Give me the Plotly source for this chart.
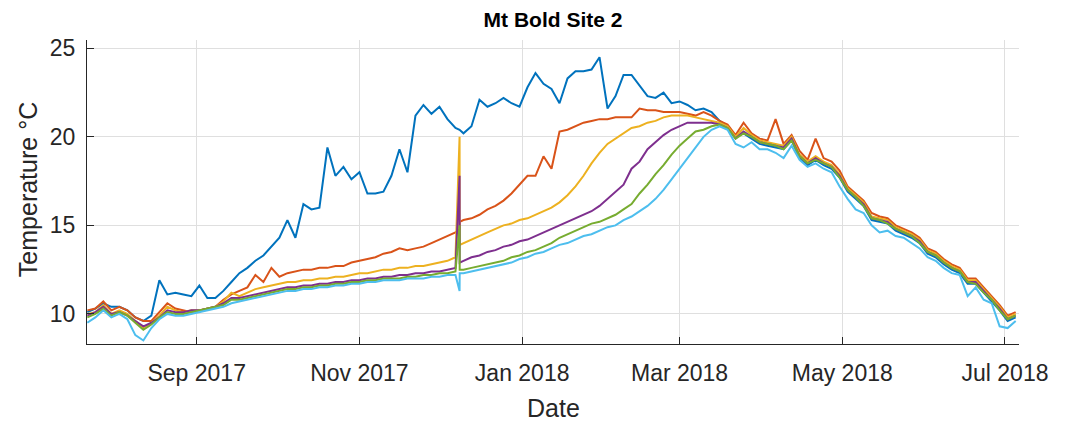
import pandas as pd
import plotly.graph_objects as go

# 3-day samples starting 22 Jul 2017, plus a logger glitch on 8 Dec 2017
start_date = "2017-07-22"
n_samples = 117
glitch_index = 47
glitch_times = ["2017-12-08 13:00", "2017-12-08 14:00"]

series_names = ["Logger 1", "Logger 2", "Logger 3", "Logger 4", "Logger 5", "Logger 6"]
series_colors = ["#0072BD", "#D95319", "#EDB120", "#7E2F8E", "#77AC30", "#4DBEEE"]

temp_1 = [10.1, 10.3, 10.6, 10.4, 10.4, 10.2, 9.8, 9.6, 9.9, 11.9,
          11.1, 11.2, 11.1, 11.0, 11.6, 10.9, 10.9, 11.3, 11.8, 12.3,
          12.6, 13.0, 13.3, 13.8, 14.3, 15.3, 14.3, 16.2, 15.9, 16.0,
          19.4, 17.8, 18.3, 17.6, 18.0, 16.8, 16.8, 16.9, 17.8, 19.3,
          18.0, 21.2, 21.8, 21.3, 21.7, 21.0, 20.5, 20.2, 20.6, 22.1,
          21.7, 21.9, 22.2, 21.9, 21.7, 22.8, 23.6, 23.0, 22.7, 21.9,
          23.3, 23.7, 23.7, 23.8, 24.5, 21.6, 22.3, 23.5, 23.5, 22.9,
          22.3, 22.2, 22.5, 21.9, 22.0, 21.8, 21.5, 21.6, 21.4, 20.9,
          20.6, 20.0, 20.2, 19.9, 19.6, 19.5, 19.4, 19.3, 19.8, 18.8,
          18.4, 18.7, 18.4, 18.2, 17.7, 16.9, 16.5, 16.1, 15.3, 15.2,
          15.1, 14.7, 14.5, 14.3, 14.0, 13.4, 13.2, 12.8, 12.5, 12.3,
          11.7, 11.7, 11.2, 10.7, 10.2, 9.6, 9.8]

temp_2 = [10.2, 10.3, 10.7, 10.2, 10.4, 10.2, 9.8, 9.6, 9.6, 10.1,
          10.6, 10.3, 10.2, 10.1, 10.2, 10.3, 10.4, 10.8, 11.1, 11.3,
          11.5, 12.2, 11.8, 12.6, 12.1, 12.3, 12.4, 12.5, 12.5, 12.6,
          12.6, 12.7, 12.7, 12.9, 13.0, 13.1, 13.2, 13.4, 13.5, 13.7,
          13.6, 13.7, 13.8, 14.0, 14.2, 14.4, 14.6, 15.3, 15.4, 15.6,
          15.9, 16.1, 16.4, 16.8, 17.3, 17.8, 17.8, 18.9, 18.2, 20.3,
          20.4, 20.6, 20.8, 20.9, 21.0, 21.0, 21.1, 21.1, 21.1, 21.6,
          21.5, 21.5, 21.4, 21.4, 21.4, 21.3, 21.2, 21.4, 21.2, 20.9,
          20.7, 20.1, 20.8, 20.2, 19.9, 19.8, 21.0, 19.6, 20.1, 19.2,
          18.7, 19.9, 18.8, 18.6, 18.1, 17.2, 16.8, 16.4, 15.7, 15.5,
          15.4, 15.0, 14.8, 14.6, 14.3, 13.7, 13.5, 13.1, 12.8, 12.6,
          12.0, 12.0, 11.5, 11.0, 10.5, 9.9, 10.1]

temp_3 = [10.0, 10.1, 10.5, 10.0, 10.2, 10.0, 9.6, 9.2, 9.5, 9.9,
          10.4, 10.2, 10.1, 10.2, 10.2, 10.3, 10.4, 10.7, 11.2, 11.0,
          11.2, 11.4, 11.5, 11.6, 11.7, 11.8, 11.8, 11.9, 11.9, 12.0,
          12.0, 12.1, 12.1, 12.2, 12.3, 12.3, 12.4, 12.5, 12.5, 12.6,
          12.6, 12.7, 12.7, 12.8, 12.9, 13.0, 13.2, 14.0, 14.2, 14.4,
          14.6, 14.8, 15.0, 15.1, 15.3, 15.4, 15.6, 15.8, 16.0, 16.3,
          16.7, 17.2, 17.8, 18.5, 19.1, 19.6, 19.9, 20.2, 20.5, 20.6,
          20.8, 20.9, 21.1, 21.2, 21.2, 21.2, 21.1, 21.0, 20.9, 20.8,
          20.6, 20.0, 20.5, 20.1, 19.8, 19.7, 19.6, 19.5, 20.0, 19.0,
          18.6, 18.9, 18.6, 18.4, 17.9, 17.1, 16.7, 16.3, 15.5, 15.4,
          15.3, 14.9, 14.7, 14.5, 14.2, 13.6, 13.4, 13.0, 12.7, 12.5,
          11.9, 11.9, 11.4, 10.9, 10.4, 9.8, 10.0]

temp_4 = [9.9, 10.1, 10.4, 10.0, 10.1, 9.9, 9.6, 9.3, 9.5, 9.8,
          10.2, 10.1, 10.1, 10.2, 10.2, 10.3, 10.4, 10.6, 10.9, 10.9,
          11.0, 11.1, 11.2, 11.3, 11.4, 11.5, 11.5, 11.6, 11.6, 11.7,
          11.7, 11.8, 11.8, 11.9, 11.9, 12.0, 12.0, 12.1, 12.1, 12.2,
          12.2, 12.3, 12.3, 12.4, 12.4, 12.5, 12.6, 13.0, 13.2, 13.3,
          13.5, 13.6, 13.8, 13.9, 14.1, 14.2, 14.4, 14.6, 14.8, 15.0,
          15.2, 15.4, 15.6, 15.8, 16.1, 16.5, 16.9, 17.3, 18.2, 18.6,
          19.3, 19.7, 20.1, 20.4, 20.6, 20.8, 20.8, 20.8, 20.8, 20.7,
          20.5, 19.9, 20.3, 20.0, 19.7, 19.6, 19.5, 19.4, 19.9, 18.9,
          18.5, 18.8, 18.5, 18.3, 17.8, 17.0, 16.6, 16.2, 15.4, 15.3,
          15.2, 14.8, 14.6, 14.4, 14.1, 13.5, 13.3, 12.9, 12.6, 12.4,
          11.8, 11.8, 11.3, 10.8, 10.3, 9.7, 9.9]

temp_5 = [9.8, 10.0, 10.3, 9.9, 10.1, 9.9, 9.5, 9.1, 9.4, 9.8,
          10.1, 10.0, 10.0, 10.1, 10.2, 10.3, 10.4, 10.5, 10.8, 10.8,
          10.9, 11.0, 11.1, 11.2, 11.3, 11.4, 11.4, 11.5, 11.5, 11.6,
          11.6, 11.7, 11.7, 11.8, 11.8, 11.9, 11.9, 12.0, 12.0, 12.0,
          12.1, 12.1, 12.2, 12.2, 12.3, 12.3, 12.4, 12.5, 12.6, 12.7,
          12.8, 12.9, 13.0, 13.2, 13.3, 13.5, 13.6, 13.8, 14.0, 14.3,
          14.5, 14.7, 14.9, 15.1, 15.2, 15.4, 15.6, 15.9, 16.2, 16.8,
          17.3, 17.9, 18.4, 19.0, 19.5, 19.9, 20.3, 20.4, 20.6, 20.7,
          20.5, 19.9, 20.2, 20.0, 19.7, 19.6, 19.5, 19.3, 19.8, 18.9,
          18.5, 18.7, 18.5, 18.3, 17.7, 17.0, 16.6, 16.1, 15.4, 15.3,
          15.1, 14.8, 14.6, 14.4, 14.0, 13.5, 13.3, 12.9, 12.6, 12.4,
          11.8, 11.7, 11.2, 10.8, 10.2, 9.7, 9.9]

temp_6 = [9.5, 9.8, 10.2, 9.8, 10.0, 9.7, 8.8, 8.5, 9.2, 9.7,
          10.0, 9.9, 9.9, 10.0, 10.1, 10.2, 10.3, 10.4, 10.6, 10.7,
          10.8, 10.9, 11.0, 11.1, 11.2, 11.3, 11.3, 11.4, 11.4, 11.5,
          11.5, 11.6, 11.6, 11.7, 11.7, 11.8, 11.8, 11.9, 11.9, 11.9,
          12.0, 12.0, 12.0, 12.1, 12.1, 12.2, 12.2, 12.3, 12.4, 12.5,
          12.6, 12.7, 12.8, 12.9, 13.1, 13.2, 13.4, 13.5, 13.7, 13.9,
          14.0, 14.2, 14.4, 14.5, 14.7, 14.9, 15.0, 15.3, 15.5, 15.8,
          16.1, 16.5, 17.0, 17.6, 18.2, 18.8, 19.4, 20.0, 20.4, 20.6,
          20.4, 19.6, 19.4, 19.7, 19.3, 19.3, 19.1, 18.8, 19.5, 18.7,
          18.3, 18.5, 18.2, 18.0, 17.2, 16.5, 15.9, 15.7, 15.0, 14.6,
          14.7, 14.4, 14.3, 14.0, 13.7, 13.2, 13.0, 12.6, 12.3, 12.2,
          11.0, 11.5, 10.8, 10.6, 9.3, 9.2, 9.6]

# values at the two glitch timestamps (spike, then new level)
glitch_1 = [20.4, 20.4]
glitch_2 = [14.8, 15.2]
glitch_3 = [20.0, 13.9]
glitch_4 = [17.8, 12.9]
glitch_5 = [15.0, 12.5]
glitch_6 = [11.3, 12.3]

tick_dates = ["2017-09-01", "2017-11-01", "2018-01-01", "2018-03-01", "2018-05-01", "2018-07-01"]
tick_labels = ["Sep 2017", "Nov 2017", "Jan 2018", "Mar 2018", "May 2018", "Jul 2018"]
y_ticks = [10, 15, 20, 25]

all_temps = [temp_1, temp_2, temp_3, temp_4, temp_5, temp_6]
all_glitches = [glitch_1, glitch_2, glitch_3, glitch_4, glitch_5, glitch_6]

base_dates = list(pd.date_range(start_date, periods=n_samples, freq="3D"))
dates = base_dates[:glitch_index] + list(pd.to_datetime(glitch_times)) + base_dates[glitch_index:]

fig = go.Figure()
for name, color, temps, glitch in zip(series_names, series_colors, all_temps, all_glitches):
    y = temps[:glitch_index] + glitch + temps[glitch_index:]
    fig.add_trace(go.Scatter(x=dates, y=y, mode="lines", name=name,
                             line=dict(color=color, width=2)))

font_family = "Liberation Sans, Arial, sans-serif"
axis_color = "#262626"

fig.update_xaxes(range=["2017-07-21 21:00", "2018-07-06 06:00"],
                 tickvals=tick_dates, ticktext=tick_labels,
                 showgrid=True, gridcolor="#dfdfdf", gridwidth=1,
                 showline=True, linecolor=axis_color, linewidth=1,
                 ticks="inside", ticklen=7, tickcolor=axis_color,
                 ticklabelstandoff=8, zeroline=False,
                 tickfont=dict(size=23, color=axis_color, family=font_family))
fig.update_yaxes(range=[8.3, 25.47], tickvals=y_ticks,
                 showgrid=True, gridcolor="#dfdfdf", gridwidth=1,
                 showline=True, linecolor=axis_color, linewidth=1,
                 ticks="inside", ticklen=7, tickcolor=axis_color,
                 ticklabelstandoff=6, zeroline=False,
                 tickfont=dict(size=23, color=axis_color, family=font_family))

# page body adds an 8px offset, so the margins are pulled in by 8px
fig.update_layout(width=1072, height=424, autosize=False,
    plot_bgcolor="white", paper_bgcolor="white",
    showlegend=False,
    margin=dict(l=79, r=61, t=32, b=88),
    font=dict(family=font_family, color=axis_color),
    title=dict(text="<b>Mt Bold Site 2</b>", x=0.5, xref="paper",
               y=1 - 12 / 424, yref="container", yanchor="middle",
               font=dict(size=21, color="#000000", family=font_family)))

fig.add_annotation(text="Date", xref="paper", yref="paper", x=0.5, y=-0.21,
                   xanchor="center", yanchor="middle", showarrow=False,
                   font=dict(size=25, color=axis_color, family=font_family))
fig.add_annotation(text="Temperature °C", xref="paper", yref="paper", x=-0.063, y=0.507,
                   xanchor="center", yanchor="middle", textangle=-90, showarrow=False,
                   font=dict(size=25, color=axis_color, family=font_family))

fig.write_html("out.html")
